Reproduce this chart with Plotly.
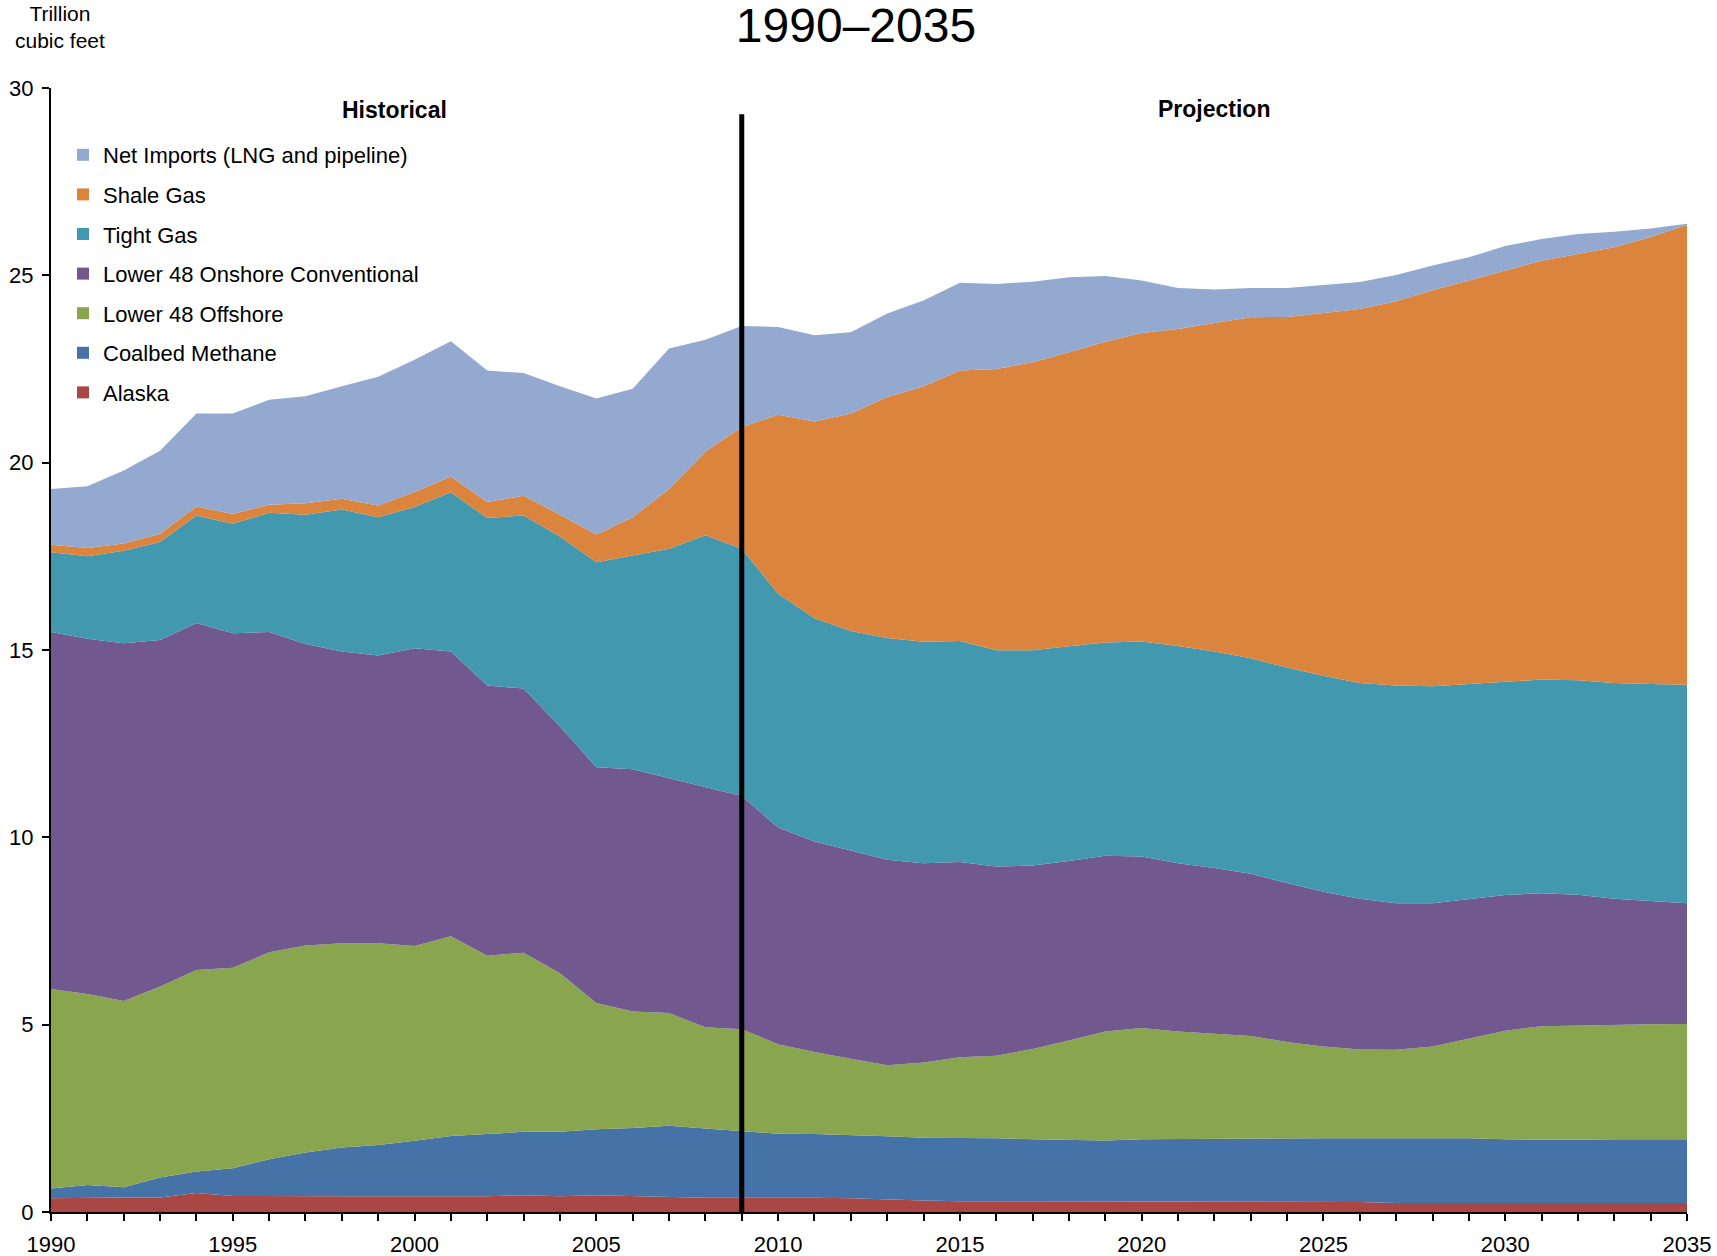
import plotly.graph_objects as go

years = list(range(1990, 2036))

alaska = [0.37, 0.39, 0.39, 0.39, 0.51, 0.43, 0.42, 0.42, 0.42, 0.42,
          0.42, 0.42, 0.42, 0.45, 0.42, 0.45, 0.42, 0.40, 0.38, 0.38,
          0.39, 0.38, 0.37, 0.33, 0.31, 0.29, 0.29, 0.29, 0.29, 0.28,
          0.28, 0.27, 0.27, 0.27, 0.27, 0.27, 0.27, 0.24, 0.24, 0.24,
          0.24, 0.24, 0.24, 0.24, 0.24, 0.24]
coalbed = [0.26, 0.33, 0.27, 0.53, 0.57, 0.74, 0.99, 1.17, 1.30, 1.37,
           1.48, 1.61, 1.66, 1.69, 1.72, 1.76, 1.82, 1.90, 1.85, 1.79,
           1.70, 1.70, 1.69, 1.69, 1.67, 1.69, 1.68, 1.65, 1.64, 1.63,
           1.66, 1.68, 1.68, 1.68, 1.70, 1.70, 1.70, 1.73, 1.74, 1.73,
           1.70, 1.69, 1.69, 1.70, 1.70, 1.70]
offshore = [5.32, 5.10, 4.97, 5.10, 5.38, 5.35, 5.52, 5.52, 5.45, 5.38,
            5.20, 5.33, 4.76, 4.78, 4.23, 3.37, 3.11, 3.01, 2.70, 2.71,
            2.39, 2.19, 2.03, 1.90, 2.01, 2.15, 2.20, 2.41, 2.65, 2.91,
            2.97, 2.87, 2.81, 2.75, 2.57, 2.45, 2.37, 2.36, 2.44, 2.67,
            2.90, 3.03, 3.05, 3.07, 3.07, 3.08]
onshore = [9.53, 9.48, 9.55, 9.25, 9.26, 8.93, 8.55, 8.05, 7.79, 7.68,
           7.95, 7.60, 7.21, 7.05, 6.59, 6.29, 6.47, 6.27, 6.40, 6.22,
           5.78, 5.62, 5.56, 5.48, 5.32, 5.21, 5.05, 4.90, 4.79, 4.69,
           4.58, 4.49, 4.42, 4.33, 4.24, 4.13, 4.02, 3.91, 3.82, 3.72,
           3.62, 3.55, 3.49, 3.35, 3.29, 3.22]
tight = [2.13, 2.20, 2.47, 2.61, 2.87, 2.92, 3.18, 3.45, 3.79, 3.69,
         3.77, 4.25, 4.47, 4.62, 5.07, 5.47, 5.70, 6.12, 6.73, 6.60,
         6.24, 5.96, 5.86, 5.92, 5.91, 5.90, 5.77, 5.74, 5.73, 5.69,
         5.74, 5.80, 5.78, 5.75, 5.75, 5.76, 5.76, 5.81, 5.79, 5.73,
         5.70, 5.70, 5.72, 5.76, 5.79, 5.83]
shale = [0.20, 0.22, 0.19, 0.22, 0.24, 0.26, 0.22, 0.31, 0.29, 0.32,
         0.40, 0.42, 0.43, 0.53, 0.58, 0.74, 1.02, 1.60, 2.24, 3.25,
         4.78, 5.25, 5.80, 6.43, 6.82, 7.22, 7.51, 7.69, 7.85, 8.03,
         8.23, 8.46, 8.77, 9.10, 9.36, 9.69, 9.98, 10.26, 10.57, 10.77,
         10.97, 11.18, 11.38, 11.63, 11.93, 12.28]
imports = [1.49, 1.65, 1.95, 2.22, 2.48, 2.68, 2.80, 2.85, 3.00, 3.43,
           3.53, 3.61, 3.51, 3.27, 3.43, 3.63, 3.43, 3.75, 2.98, 2.70,
           2.34, 2.30, 2.17, 2.23, 2.29, 2.34, 2.27, 2.15, 2.00, 1.75,
           1.40, 1.09, 0.89, 0.78, 0.77, 0.75, 0.72, 0.70, 0.66, 0.62,
           0.65, 0.58, 0.53, 0.41, 0.23, 0.03]

series_names = ["Alaska", "Coalbed Methane", "Lower 48 Offshore",
                "Lower 48 Onshore Conventional", "Tight Gas", "Shale Gas",
                "Net Imports (LNG and pipeline)"]
series_values = [alaska, coalbed, offshore, onshore, tight, shale, imports]
colors = ["#AA4643", "#4572A7", "#89A54E", "#71588F", "#4198AF", "#DB843D", "#93A9CF"]

x_ticks = [1990, 1995, 2000, 2005, 2010, 2015, 2020, 2025, 2030, 2035]
y_ticks = [0, 5, 10, 15, 20, 25, 30]
divider_year = 2009

FONT = "Liberation Sans, Arial, sans-serif"

W, H = 1717, 1256
ml, mr, mt, mb = 51, 30, 88, 44
pw, ph = W - ml - mr, H - mt - mb

fig = go.Figure()
for name, vals, col in zip(series_names, series_values, colors):
    fig.add_trace(go.Scatter(
        x=years, y=vals, name=name, stackgroup="one", mode="lines",
        line=dict(width=0, color=col), fillcolor=col, showlegend=False,
        hoverinfo="x+y+name"))

# legend entries (small squares), top to bottom
for i, (name, col) in enumerate(reversed(list(zip(series_names, colors)))):
    fig.add_trace(go.Scatter(
        x=[None], y=[None], mode="markers", name=name,
        marker=dict(symbol="square", size=12, color=col),
        legendgroup=f"g{i}", showlegend=True))

fig.add_shape(type="line", xref="x", yref="y", x0=divider_year, x1=divider_year,
              y0=0, y1=29.3, line=dict(color="black", width=5), layer="above")

fig.add_annotation(x=1999.44, y=29.4, xref="x", yref="y", text="<b>Historical</b>",
                   showarrow=False, font=dict(family=FONT, size=23, color="black"),
                   xanchor="center", yanchor="middle")
fig.add_annotation(x=2022.0, y=29.45, xref="x", yref="y", text="<b>Projection</b>",
                   showarrow=False, font=dict(family=FONT, size=23, color="black"),
                   xanchor="center", yanchor="middle")
fig.add_annotation(x=(60 - ml) / pw, y=(H - mb - 27) / ph, xref="paper", yref="paper",
                   text="Trillion<br>cubic feet",
                   showarrow=False, font=dict(family=FONT, size=21, color="black"),
                   xanchor="center", yanchor="middle", align="center")

fig.update_layout(
    width=W, height=H,
    margin=dict(l=ml, r=mr, t=mt, b=mb, autoexpand=False),
    paper_bgcolor="white", plot_bgcolor="white",
    font=dict(family=FONT, size=22, color="black"),
    title=dict(text="1990\u20132035", x=856 / W, xanchor="center",
               y=1 - 25 / H, yanchor="middle", xref="container", yref="container",
               font=dict(family=FONT, size=48, color="black")),
    legend=dict(x=(63 - ml) / pw, xanchor="left", y=(H - mb - 134) / ph, yanchor="top",
                bgcolor="rgba(0,0,0,0)", borderwidth=0, traceorder="grouped",
                tracegroupgap=8, font=dict(family=FONT, size=22, color="black")),
    showlegend=True,
)

fig.update_xaxes(range=[1990, 2035], tickmode="array", tickvals=x_ticks,
                 ticktext=[str(v) for v in x_ticks],
                 showgrid=False, zeroline=False, showline=True, linecolor="black",
                 linewidth=2, ticks="outside", ticklen=7, tickwidth=1.5, tickcolor="black",
                 minor=dict(dtick=1, tick0=1990, ticks="outside", ticklen=7, tickwidth=1.5,
                            tickcolor="black", showgrid=False),
                 ticklabelstandoff=5, tickfont=dict(family=FONT, size=22, color="black"),
                 automargin=False)
fig.update_yaxes(range=[0, 30], tickmode="array", tickvals=y_ticks,
                 showgrid=False, zeroline=False, showline=True, linecolor="black",
                 linewidth=2, ticks="outside", ticklen=7, tickwidth=1.5, tickcolor="black",
                 ticklabelstandoff=4, tickfont=dict(family=FONT, size=22, color="black"),
                 automargin=False)

fig.write_html("out.html", post_script="document.body.style.margin='0';",
               config={"displayModeBar": False})
